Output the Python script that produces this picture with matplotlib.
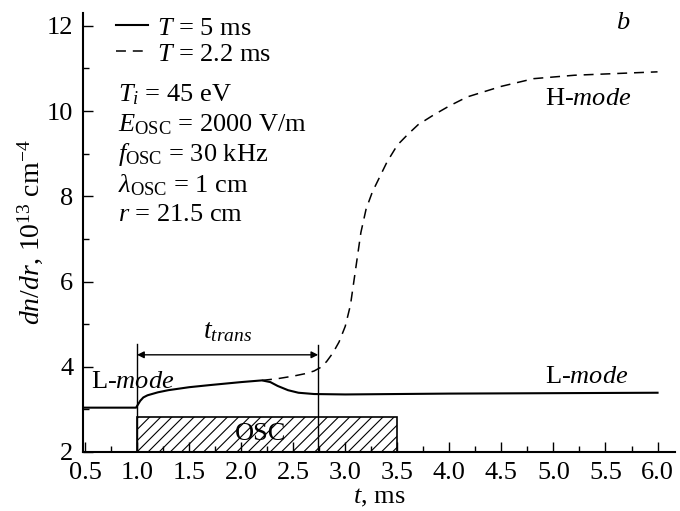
import matplotlib
matplotlib.use("Agg")
import matplotlib.pyplot as plt
from matplotlib.ticker import MultipleLocator, FormatStrFormatter
from matplotlib.patches import Rectangle

plt.rcParams['font.family'] = ['Liberation Serif', 'DejaVu Serif']
plt.rcParams['mathtext.fontset'] = 'custom'
plt.rcParams['mathtext.rm'] = 'Liberation Serif'
plt.rcParams['mathtext.it'] = 'Liberation Serif:italic'
plt.rcParams['mathtext.bf'] = 'Liberation Serif:bold'
plt.rcParams['hatch.linewidth'] = 0.8
plt.rcParams['path.simplify'] = False

FS = 19

# Solid curve, T = 5 ms
t_solid = [0.5, 0.99, 1.0, 1.03, 1.06, 1.1, 1.2, 1.3, 1.5, 1.7, 2.0, 2.2, 2.28,
           2.35, 2.45, 2.55, 2.7, 3.0, 4.0, 5.0, 6.0]
n_solid = [3.04, 3.04, 3.08, 3.2, 3.28, 3.33, 3.4, 3.45, 3.52, 3.57, 3.64, 3.68, 3.64,
           3.55, 3.45, 3.39, 3.36, 3.35, 3.37, 3.38, 3.39]

# Dashed curve, T = 2.2 ms
t_dash = [2.2, 2.35, 2.5, 2.62, 2.7, 2.76, 2.82, 2.88, 2.94, 3.0, 3.05, 3.1, 3.15,
          3.2, 3.26, 3.32, 3.4, 3.5, 3.6, 3.7, 3.85, 4.0, 4.17, 4.5, 4.81, 5.2, 5.6, 6.0]
n_dash = [3.68, 3.72, 3.78, 3.84, 3.9, 3.98, 4.12, 4.32, 4.58, 4.95, 5.45, 6.3, 7.15,
          7.7, 8.1, 8.4, 8.8, 9.2, 9.45, 9.68, 9.91, 10.12, 10.33, 10.58, 10.76, 10.84,
          10.88, 10.92]

osc_start, osc_end, osc_top = 1.0, 3.5, 2.82
t_trans_end = 2.74

x_ticks = [0.5, 1.0, 1.5, 2.0, 2.5, 3.0, 3.5, 4.0, 4.5, 5.0, 5.5, 6.0]
y_ticks = [2, 4, 6, 8, 10, 12]

fig = plt.figure(figsize=(6.8, 5.11), dpi=100)
ax = fig.add_axes([0.122, 0.1155, 0.871, 0.859])

ax.plot(t_solid, n_solid, color='black', lw=1.5, label='$T$ = 5 ms')
ax.plot(t_dash, n_dash, color='black', lw=1.1, dashes=(6.5, 4.5), label='$T$ = 2.2 ms')

ax.add_patch(Rectangle((osc_start, 2), osc_end - osc_start, osc_top - 2,
                       facecolor='white', edgecolor='black', lw=1.2, hatch='///', zorder=1))
ax.text(2.19, 2.43, 'OSC', fontsize=FS, ha='center', va='center', zorder=3)

ax.plot([osc_start, osc_start], [2, 4.53], color='black', lw=1.0)
ax.plot([t_trans_end, t_trans_end], [2, 4.5], color='black', lw=1.0)
ax.annotate('', xy=(osc_start, 4.28), xytext=(t_trans_end, 4.28),
            arrowprops=dict(arrowstyle='<|-|>', color='black', lw=1.0,
                            mutation_scale=10, shrinkA=0, shrinkB=0))
ax.text(1.87, 4.52, r'$t_{trans}$', fontsize=FS + 1, ha='center', va='bottom')

ax.text(0.56, 3.65, r'L-$\mathit{mode}$', fontsize=FS, ha='left', va='center')
ax.text(4.92, 3.76, r'L-$\mathit{mode}$', fontsize=FS, ha='left', va='center')
ax.text(4.92, 10.28, r'H-$\mathit{mode}$', fontsize=FS, ha='left', va='center')
ax.text(5.67, 12.07, r'$b$', fontsize=FS, ha='center', va='center')

params = [r'$T_i$ = 45 eV', r'$E_{\rm OSC}$ = 2000 V/m', r'$f_{\rm OSC}$ = 30 kHz',
          r'$\lambda_{\rm OSC}$ = 1 cm', r'$r$ = 21.5 cm']
ys = [10.38, 9.68, 8.97, 8.25, 7.56]
for s, y in zip(params, ys):
    ax.text(0.82, y, s, fontsize=FS, ha='left', va='center')

ax.legend(loc='upper left', bbox_to_anchor=(0.025, 1.035), frameon=False, fontsize=FS,
          handlelength=1.2, handletextpad=0.35, labelspacing=0.1, borderpad=0.2)

ax.set_xlim(0.48, 6.17)
ax.set_ylim(2, 12.3)
ax.set_xticks(x_ticks)
ax.set_yticks(y_ticks)
ax.xaxis.set_major_formatter(FormatStrFormatter('%.1f'))
ax.xaxis.set_minor_locator(MultipleLocator(0.25))
ax.yaxis.set_minor_locator(MultipleLocator(1))
ax.tick_params(which='both', direction='in', labelsize=FS, width=1.0)
ax.tick_params(which='major', length=7)
ax.tick_params(which='minor', length=4)
ax.tick_params(axis='x', pad=7)
ax.tick_params(axis='y', pad=7)
ax.spines['top'].set_visible(False)
ax.spines['right'].set_visible(False)
for sp in ('left', 'bottom'):
    ax.spines[sp].set_linewidth(1.5)

ax.set_xlabel(r'$t$, ms', fontsize=FS, labelpad=2)
ax.set_ylabel(r'$dn/dr$, 10$^{13}$ cm$^{-4}$', fontsize=FS + 1, labelpad=1)

fig.savefig('out.png', dpi=100)
